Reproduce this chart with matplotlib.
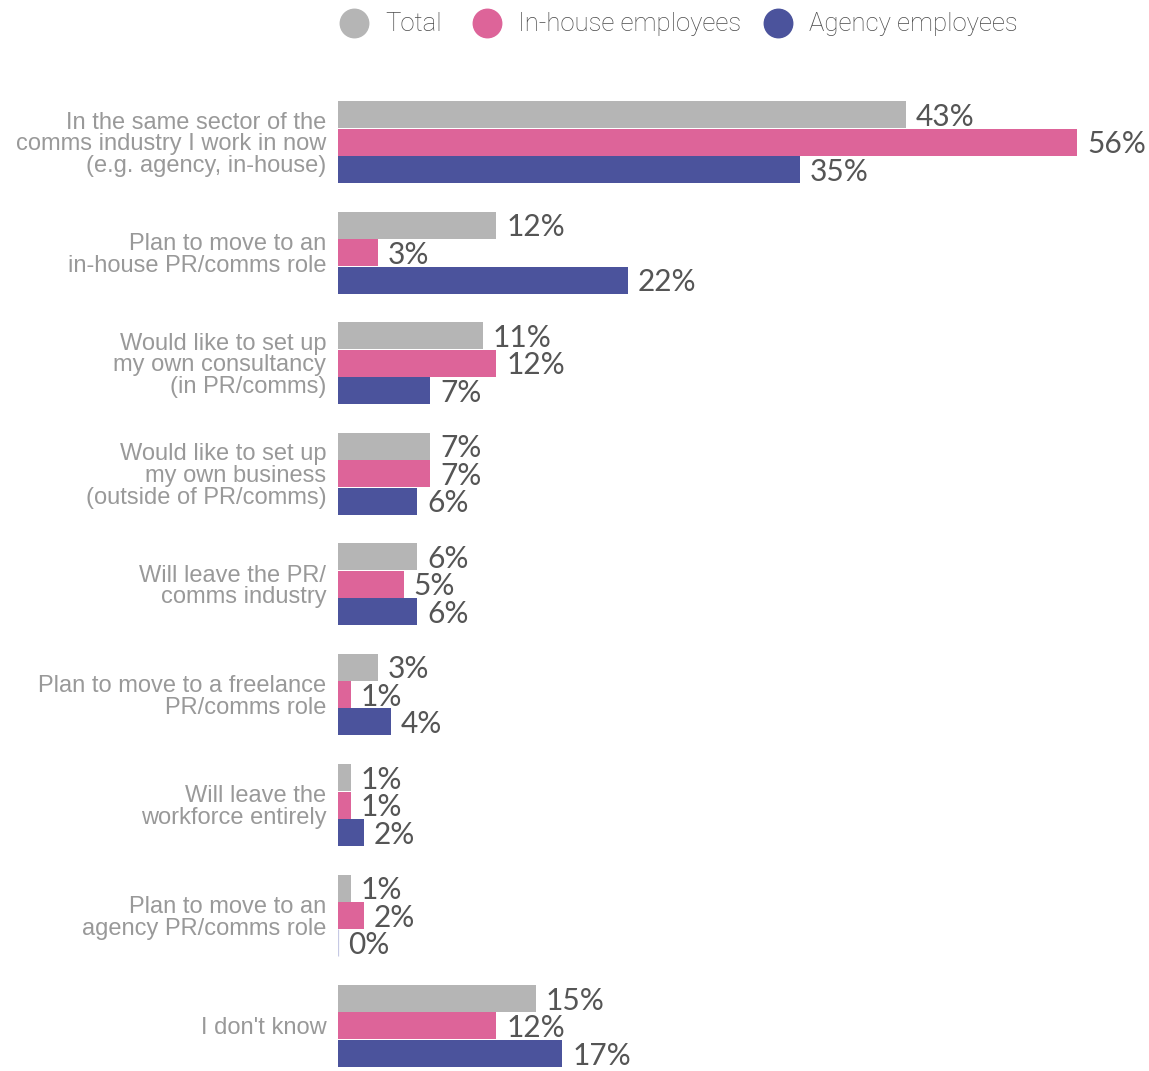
import matplotlib
matplotlib.use("Agg")
import matplotlib.pyplot as plt
import numpy as np
from matplotlib.lines import Line2D

categories = [
    "In the same sector of the\ncomms industry I work in now\n(e.g. agency, in-house)",
    "Plan to move to an\nin-house PR/comms role",
    "Would like to set up\nmy own consultancy\n(in PR/comms)",
    "Would like to set up\nmy own business\n(outside of PR/comms)",
    "Will leave the PR/\ncomms industry",
    "Plan to move to a freelance\nPR/comms role",
    "Will leave the\nworkforce entirely",
    "Plan to move to an\nagency PR/comms role",
    "I don't know",
]
series_names = ["Total", "In-house employees", "Agency employees"]
total = [43, 12, 11, 7, 6, 3, 1, 1, 15]
in_house = [56, 3, 12, 7, 5, 1, 1, 2, 12]
agency = [35, 22, 7, 6, 6, 4, 2, 0, 17]

colors = ["#b5b5b5", "#dd6499", "#4b539c"]
label_color = "#555555"
cat_color = "#999999"

W, H = 1149, 1071
fig = plt.figure(figsize=(W / 100, H / 100), dpi=100)

pitch = 110.5          # px between groups
first_center = 142.0   # px of first group center
ax_top_px = 90
ax_left_px = 338
ax = fig.add_axes([ax_left_px / W, 0, 1 - ax_left_px / W, 1 - ax_top_px / H])
ymin = (ax_top_px - first_center) / pitch
ymax = (H - first_center) / pitch
ax.set_ylim(ymax, ymin)
px_per_unit = 13.2
ax.set_xlim(0, (W - ax_left_px) / px_per_unit)

y = np.arange(len(categories))
bar_h = 27 / pitch
offsets = [-27.5 / pitch, 0.0, 27.5 / pitch]

value_font = dict(family=["Lato", "DejaVu Sans"], weight="normal", size=21.5)

for vals, off, col in zip([total, in_house, agency], offsets, colors):
    lw = [0.9 if v == 0 else 0 for v in vals]
    ax.barh(y + off, vals, height=bar_h, color=col,
            edgecolor="#c6c9e4", linewidth=lw)
    for yi, v in zip(y, vals):
        ax.annotate(f"{v}%", (v, yi + off), xytext=(7, -1.5),
                    textcoords="offset points", ha="left", va="center",
                    color=label_color, **value_font)

ax.set_yticks(y, categories)
ax.tick_params(axis="y", length=0, pad=8.5)
for t in ax.get_yticklabels():
    t.set_fontfamily(["Liberation Sans", "DejaVu Sans"])
    t.set_fontsize(17)
    t.set_color(cat_color)
    t.set_linespacing(0.99)
    t.set_ha("right")
ax.set_xticks([])
for s in ax.spines.values():
    s.set_visible(False)

# Legend row across the top: colour dot followed by series name
legend_x_px = [354, 487, 778]
legend_y = 1 - 22.5 / H
for xp, name, col in zip(legend_x_px, series_names, colors):
    fig.add_artist(Line2D([xp / W], [legend_y], marker="o", linestyle="",
                          markersize=20.5, markerfacecolor=col,
                          markeredgecolor=col, transform=fig.transFigure))
    fig.text((xp + 31) / W, legend_y - 1.5 / H, name, ha="left", va="center",
             color="#4a4a4a", fontsize=18.5,
             family=["Roboto", "DejaVu Sans"], weight="light")

fig.savefig("out.png", dpi=100)
